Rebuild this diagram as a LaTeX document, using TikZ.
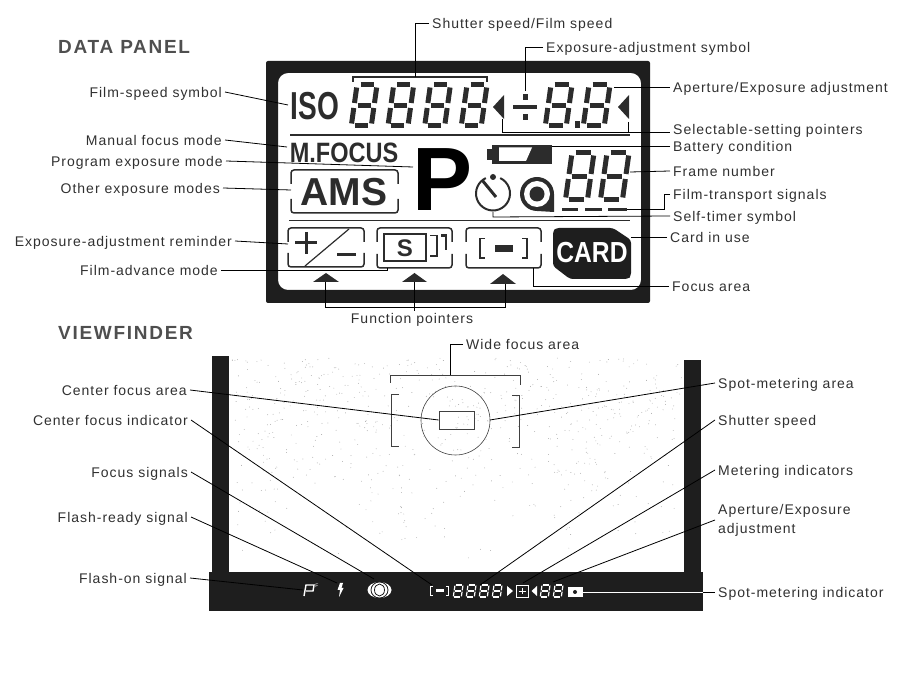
\documentclass[tikz,border=0pt]{standalone}
\usepackage{fontspec}
\usepackage{xcolor}
\setmainfont{Liberation Sans}
\newfontfamily\labelfont[LetterSpace=7]{Liberation Sans}
\newfontfamily\titlefont[LetterSpace=9]{Liberation Sans}
\usetikzlibrary{positioning,calc}
\definecolor{ink}{HTML}{303030}
\definecolor{frameblack}{HTML}{1E1E1E}
\definecolor{lcd}{HTML}{2C2C2C}
\tikzstyle{every node}=[inner sep=0pt]
\tikzstyle{title}=[anchor=west, text=ink!85, font=\titlefont\bfseries\fontsize{19}{22}\selectfont]
\tikzstyle{callout}=[text=ink, inner sep=3pt, text height=14pt, text depth=3pt,
  font=\labelfont\fontsize{14}{19}\selectfont]
\tikzstyle{left label}=[callout, anchor=east]
\tikzstyle{right label}=[callout, anchor=west]
\tikzstyle{line}=[draw=black, line width=0.8pt]
\tikzstyle{lcd box}=[draw=lcd, line width=1.5pt, rounded corners=3pt]
\tikzstyle{focus}=[draw=black!75, line width=0.8pt]
% one seven-segment digit: x, y, width, height, stroke, colour
\newcommand{\segdigit}[6]{
\begin{scope}[shift={(#1,#2)},xslant=0.14,draw=#6,line width=#5pt]
  \pgfmathsetmacro{\gapx}{#5*0.7}
  \pgfmathsetmacro{\gapy}{#5*0.5}
  \pgfmathsetmacro{\mid}{#4/2}
  \draw (\gapx,0) -- (#3-\gapx,0);
  \draw (\gapx,\mid) -- (#3-\gapx,\mid);
  \draw (\gapx,#4) -- (#3-\gapx,#4);
  \draw (0,\gapy) -- (0,\mid-\gapy);
  \draw (#3,\gapy) -- (#3,\mid-\gapy);
  \draw (0,\mid+\gapy) -- (0,#4-\gapy);
  \draw (#3,\mid+\gapy) -- (#3,#4-\gapy);
\end{scope}
}
% rounded box of the panel, open in the middle of its two sides
\newcommand{\lcdbox}[4]{
\draw[lcd box] (#1,{#2+14}) |- (#3,#2) -- (#3,{#2+14});
\draw[lcd box] (#1,{#4-14}) |- (#3,#4) -- (#3,{#4-14});
}
\begin{document}
\begin{tikzpicture}[x=1pt,y=-1pt]
  \useasboundingbox (0,0) rectangle (914,684);
  %% data panel
  \node (paneltitle) [title] at (58,47) {DATA PANEL};
  \fill[frameblack,even odd rule] (266,61) [rounded corners=2pt] -- (650,61) -- (650,303) -- (266,303) -- cycle
    [rounded corners=10pt] (278,73) -- (641,73) -- (641,290) -- (278,290) -- cycle;
  \node (iso) [text=lcd, font=\bfseries\fontsize{39}{39}\selectfont] at (315,106) {\scalebox{.72}[1]{ISO}};
  \draw[lcd, line width=1.2pt] (353,82) -- (353,77) -- (487,77) -- (487,82);
  \foreach \x in {357,393.7,430.4,467}
    \segdigit{\x}{85}{20}{41}{5}{lcd};
  \fill[lcd] (493,107) -- (504,95) -- (504,119) -- cycle;
  \node (divide) [minimum width=24pt, minimum height=24pt] at (525,107) {};
  \fill[lcd] (513,105.5) rectangle (537,109);
  \fill[lcd] (522.5,94.5) rectangle (527.5,100);
  \fill[lcd] (522.5,114.5) rectangle (527.5,120);
  \segdigit{551}{85}{21}{41}{5}{lcd};
  \segdigit{589}{85}{21}{41}{5}{lcd};
  \fill[lcd] (574.5,121.5) rectangle (580,128);
  \fill[lcd] (618,107) -- (629,95) -- (629,119) -- cycle;
  \draw[lcd, line width=1.5pt] (290,135) -- (630,135);
  \draw[lcd, line width=1.5pt] (289,220.5) -- (630,220.5);
  \node (mfocus) [text=lcd, font=\bfseries\fontsize{28}{28}\selectfont] at (344,153) {\scalebox{.84}[1]{M.FOCUS}};
  \lcdbox{291}{170}{398}{213}
  \node (ams) [text=lcd, font=\bfseries\fontsize{39}{39}\selectfont] at (344,192) {AMS};
  \node (program) [text=black, font=\bfseries\fontsize{90}{90}\selectfont] at (443,180) {P};
  % battery
  \fill[lcd] (487,149) rectangle (494,160);
  \fill[lcd] (492,145) rectangle (552,164);
  \fill[white] (499,147.5) -- (532,147.5) -- (526,161) -- (499,161) -- cycle;
  \segdigit{572}{153}{22}{47}{5}{lcd};
  \segdigit{607}{153}{22}{47}{5}{lcd};
  % self timer
  \draw[lcd, line width=2pt] (500.2,178.1) arc[start angle=-65, delta angle=310, radius=17];
  \fill[lcd] (493,177) circle (3);
  \draw[lcd, line width=3pt] (482,180) -- (496,197);
  % film spool
  \fill[lcd] (537,211) arc[start angle=90, delta angle=270, radius=17] -- (554,212) -- cycle;
  \fill[white] (537,194) circle (13);
  \fill[lcd] (537,194) circle (7.5);
  \foreach \x/\y in {562/578,585/602,608/627}
    \draw[lcd, line width=2.5pt] (\x,209.5) -- (\y,209.5);
  % function boxes
  \lcdbox{288}{228}{364}{267}
  \draw[lcd, line width=3pt] (295,243) -- (317,243);
  \draw[lcd, line width=3pt] (306,232) -- (306,254);
  \draw[lcd, line width=3pt] (337,255) -- (356,255);
  \draw[lcd, line width=1.2pt] (305,266) -- (349,229);
  \lcdbox{377}{228}{452}{268}
  \draw[lcd, line width=1.5pt] (384,234) rectangle (426,261);
  \node (smode) [text=lcd, font=\bfseries\fontsize{24}{24}\selectfont] at (405,248) {S};
  \draw[lcd, line width=1.2pt] (430,235.5) -- (437,235.5) -- (437,256) -- (430,256);
  \draw[lcd, line width=2.5pt] (441,235.5) -- (446,235.5) -- (446,250);
  \lcdbox{466}{228}{541}{268}
  \draw[lcd, line width=1.5pt] (485,238.5) -- (480,238.5) -- (480,258) -- (485,258);
  \draw[lcd, line width=1.5pt] (522,238.5) -- (527,238.5) -- (527,258) -- (522,258);
  \fill[lcd] (495,245) rectangle (513,252);
  \fill[frameblack] (553,238) [rounded corners=3pt] -- (553,231) -- (556,228) -- (613,228) -- (631,240) -- (631,276) -- (628,279) -- (570,279) -- (553,266) -- cycle;
  \node (card) [text=white, font=\bfseries\fontsize{29}{29}\selectfont] at (592,253) {\scalebox{.85}[1]{CARD}};
  \fill[lcd] (313,282) -- (326,273) -- (339,282) -- cycle;
  \fill[lcd] (402,282) -- (414.5,273) -- (427,282) -- cycle;
  \fill[lcd] (490,284) -- (503,274) -- (516,284) -- cycle;
  %% named ends of the panel connectors
  \coordinate (isoend) at (288,105);
  \coordinate (focusend) at (287,147);
  \coordinate (progend) at (413,167);
  \coordinate (amsend) at (291,190);
  \coordinate (plusend) at (288,244);
  \coordinate (advend) at (387,268);
  \coordinate (shutterend) at (415,77);
  \coordinate (divend) at (525,91);
  \coordinate (apertend) at (614,87);
  \coordinate (ptrone) at (502,119);
  \coordinate (ptrtwo) at (628,122);
  \coordinate (battend) at (552,146);
  \coordinate (frameend) at (630,172);
  \coordinate (transend) at (627,209);
  \coordinate (timerend) at (493,212);
  \coordinate (cardend) at (631,237);
  \coordinate (areaend) at (533,268);
  \coordinate (fpone) at (325,282);
  \coordinate (fptwo) at (414,282);
  \coordinate (fpthree) at (505,284);
  \node (filmspeed) [left label] at (225,92) {Film-speed symbol};
  \node (manual) [left label] at (225,140) {Manual focus mode};
  \node (progmode) [left label] at (226,161) {Program exposure mode};
  \node (othermode) [left label] at (223,188) {Other exposure modes};
  \node (reminder) [left label] at (235,241) {Exposure-adjustment reminder};
  \node (advance) [left label] at (221,270) {Film-advance mode};
  \node (shutter) [right label] at (429,23) {Shutter speed/Film speed};
  \node (expsymbol) [right label] at (543,47) {Exposure-adjustment symbol};
  \node (aperture) [right label] at (670,87) {Aperture/Exposure adjustment};
  \node (selectable) [right label] at (670,129) {Selectable-setting pointers};
  \node (battery) [right label] at (670,146) {Battery condition};
  \node (framenum) [right label] at (670,171) {Frame number};
  \node (transport) [right label] at (670,194) {Film-transport signals};
  \node (selftimer) [right label] at (670,216) {Self-timer symbol};
  \node (cardlabel) [right label] at (667,237) {Card in use};
  \node (focusarea) [right label] at (669,286) {Focus area};
  \node (pointers) [callout] at (412,318) {Function pointers};
  \draw[line] (filmspeed.east) -- (isoend);
  \draw[line] (manual.east) -- (focusend);
  \draw[line] (progmode.east) -- (progend);
  \draw[line] (othermode.east) -- (amsend);
  \draw[line] (reminder.east) -- (plusend);
  \draw[line] (advance.east) -| (advend);
  \draw[line] (shutter.west) -| (shutterend);
  \draw[line] (expsymbol.west) -| (divend);
  \draw[line] (aperture.west) -- (apertend);
  \draw[line] (ptrone) |- (selectable.west |- 0,132);
  \draw[line] (ptrtwo) -- (628,132);
  \draw[line] (battery.west) -- (battend);
  \draw[line] (framenum.west) -- (frameend);
  \draw[line] (transport.west) -- (664,194) |- (transend);
  \draw[line] (selftimer.west) -- (493,217) -- (timerend);
  \draw[line] (cardlabel.west) -- (cardend);
  \draw[line] (focusarea.west) -| (areaend);
  \draw[line] (fpone) |- (fpthree |- 0,307) -- (fpthree);
  \draw[line] (fptwo) -- (414,311);
  %% viewfinder
  \node (vftitle) [title] at (58,333) {VIEWFINDER};
  \pgfmathsetseed{2718}
  \foreach \i in {1,...,700}
    \fill[black!35] ({232+rnd*450},{358+rnd*(0.4+0.6*rnd)*210}) circle (0.45);
  \fill[frameblack] (212,356) rectangle (229,575);
  \fill[frameblack] (684,360) rectangle (701,575);
  \fill[frameblack] (209,572) rectangle (703,611);
  \draw[focus] (390,383) -- (390,375) -- (520,375) -- (520,385);
  \draw[focus] (399,394) -- (391,394) -- (391,446) -- (399,446);
  \draw[focus] (512,395) -- (519,395) -- (519,447) -- (512,447);
  \draw[draw=black!75, line width=0.6pt] (455.5,420.5) circle (34.5);
  \node (centerbox) [draw=black!75, line width=0.8pt, minimum width=35pt, minimum height=18pt] at (456.5,420) {};
  % band signals
  \draw[white, line width=1.4pt] (304,596) -- (306,585) -- (314,585) -- (313,591) -- (306,591);
  \node (flashmark) [text=white, font=\fontsize{5}{5}\selectfont] at (317,586) {F};
  \fill[white] (340,583) -- (343,583) -- (341.5,588) -- (343.5,588) -- (339,597) -- (340,590) -- (337.5,590) -- cycle;
  \fill[white] (379.5,590) ellipse (12 and 8);
  \draw[frameblack, line width=.8pt] (379.5,590) ellipse (8.5 and 8);
  \draw[frameblack, line width=.8pt] (379.5,590) ellipse (5 and 6);
  \draw[white, line width=.9pt] (433,586) -- (430.5,586) -- (430.5,595) -- (433,595);
  \draw[white, line width=.9pt] (446,586) -- (448.5,586) -- (448.5,595) -- (446,595);
  \fill[white] (436,589) rectangle (444,592);
  \foreach \x in {455,468,481,494}
    \segdigit{\x}{585}{8}{12}{1.2}{white};
  \fill[white] (507,586) -- (513,591) -- (507,596) -- cycle;
  \draw[white, line width=.8pt] (516.5,585.5) rectangle (528,597);
  \draw[white, line width=.8pt] (518.5,591) -- (526,591);
  \draw[white, line width=.8pt] (522.2,588) -- (522.2,594);
  \fill[white] (537,586) -- (531.5,591) -- (537,596) -- cycle;
  \foreach \x in {542,555}
    \segdigit{\x}{585}{8}{12}{1.2}{white};
  \fill[white] (568,587) rectangle (582.5,597);
  \fill[frameblack] (575,592) circle (2);
  \coordinate (wideend) at (450,375);
  \coordinate (spotareaend) at (490,420);
  \coordinate (bracketend) at (432,585);
  \coordinate (signalend) at (374,579);
  \coordinate (readyend) at (337,583);
  \coordinate (flashend) at (303,590);
  \coordinate (speedend) at (480,585);
  \coordinate (meterend) at (523,583);
  \coordinate (aperend) at (553,582);
  \coordinate (spotend) at (583,592);
  \coordinate (bandedge) at (703,592);
  \node (widearea) [right label] at (463,344) {Wide focus area};
  \node (centerarea) [left label] at (190,390) {Center focus area};
  \node (centerind) [left label] at (191,420) {Center focus indicator};
  \node (focussig) [left label] at (191,472) {Focus signals};
  \node (flashready) [left label] at (191,517) {Flash-ready signal};
  \node (flashon) [left label] at (190,578) {Flash-on signal};
  \node (spotarea) [right label] at (715,383) {Spot-metering area};
  \node (speedlabel) [right label] at (715,420) {Shutter speed};
  \node (meterlabel) [right label] at (715,470) {Metering indicators};
  \node (aperlabel) [right label, align=left, text height=, text depth=] at (715,520) {Aperture/Exposure\\adjustment};
  \node (spotind) [right label] at (715,592) {Spot-metering indicator};
  \draw[line] (widearea.west) -| (wideend);
  \draw[line] (centerarea.east) -- (centerbox.west);
  \draw[line] (spotarea.west) -- (spotareaend);
  \draw[line] (centerind.east) -- (bracketend);
  \draw[line] (focussig.east) -- (signalend);
  \draw[line] (flashready.east) -- (readyend);
  \draw[line] (flashon.east) -- (flashend);
  \draw[line] (speedlabel.west) -- (speedend);
  \draw[line] (meterlabel.west) -- (meterend);
  \draw[line] (aperlabel.west) -- (aperend);
  \draw[line, draw=white] (spotend) -- (bandedge);
  \draw[line] (bandedge) -- (spotind.west);
\end{tikzpicture}
\end{document}
